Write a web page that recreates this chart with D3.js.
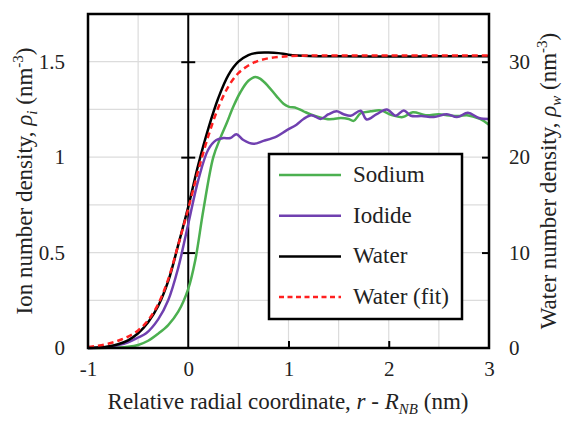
<!DOCTYPE html>
<html>
<head>
<meta charset="utf-8">
<script src="https://cdn.jsdelivr.net/npm/d3@7"></script>
</head>
<body style="margin:0; font-family:'Liberation Serif', serif;">
<div id="chart"></div>
<script>
// density profiles, [r - R_NB (nm), density (nm^-3)]
var sodium = [[-1,0],[-0.8,0.001],[-0.7,0.002],[-0.6,0.006],[-0.5,0.016],[-0.4,0.038],[-0.3,0.075],[-0.2,0.12],[-0.1,0.19],[0,0.31],
	[0.07,0.46],[0.15,0.72],[0.25,1.0],[0.32,1.1],[0.385,1.18],[0.45,1.265],[0.52,1.34],[0.6,1.4],[0.67,1.42],[0.72,1.41],
	[0.8,1.37],[0.88,1.32],[0.95,1.28],[1.0,1.265],[1.08,1.257],[1.15,1.24],[1.25,1.218],[1.38,1.2],[1.45,1.2],[1.52,1.205],
	[1.6,1.2],[1.65,1.19],[1.72,1.23],[1.82,1.24],[1.92,1.245],[2.03,1.22],[2.14,1.21],[2.24,1.235],[2.37,1.22],[2.5,1.225],
	[2.58,1.22],[2.7,1.215],[2.78,1.22],[2.91,1.2],[3.0,1.17]];
var iodide = [[-1,0],[-0.9,0.001],[-0.8,0.005],[-0.7,0.015],[-0.6,0.03],[-0.5,0.055],[-0.42,0.077],[-0.3,0.15],[-0.2,0.25],[-0.1,0.42],
	[0,0.65],[0.1,0.88],[0.2,1.04],[0.28,1.09],[0.35,1.1],[0.42,1.1],[0.48,1.12],[0.55,1.09],[0.65,1.07],[0.75,1.085],
	[0.88,1.108],[0.98,1.14],[1.08,1.17],[1.15,1.2],[1.23,1.22],[1.32,1.2],[1.4,1.225],[1.48,1.24],[1.55,1.225],[1.62,1.217],
	[1.72,1.243],[1.78,1.197],[1.88,1.225],[1.98,1.25],[2.07,1.217],[2.15,1.245],[2.22,1.217],[2.33,1.215],[2.45,1.21],[2.58,1.225],
	[2.68,1.21],[2.79,1.232],[2.9,1.205],[3.0,1.2]];
var water = [[-1,0],[-0.9,0.002],[-0.8,0.008],[-0.7,0.02],[-0.6,0.04],[-0.5,0.077],[-0.4,0.135],[-0.3,0.22],[-0.2,0.35],[-0.1,0.54],
	[0,0.74],[0.1,0.96],[0.2,1.15],[0.3,1.31],[0.4,1.43],[0.5,1.5],[0.6,1.535],[0.7,1.547],[0.8,1.548],[0.9,1.545],
	[1.0,1.537],[1.2,1.53],[1.5,1.528],[2,1.527],[2.5,1.528],[3,1.528]];
var waterFit = [[-1,0.005],[-0.9,0.012],[-0.8,0.022],[-0.7,0.038],[-0.6,0.06],[-0.5,0.092],[-0.4,0.145],[-0.3,0.23],[-0.2,0.36],[-0.1,0.54],
	[0,0.73],[0.1,0.93],[0.2,1.11],[0.3,1.26],[0.4,1.37],[0.5,1.44],[0.6,1.48],[0.7,1.505],[0.8,1.518],[0.9,1.525],
	[1.0,1.529],[1.2,1.532],[1.5,1.533],[2,1.533],[3,1.533]];

var seriesNames = ["Sodium", "Iodide", "Water", "Water (fit)"];
var seriesColors = ["#4cb050", "#7040b0", "#000000", "#ff2020"];
var xTicks = [-1, 0, 1, 2, 3];
var yTicks = [0, 0.5, 1, 1.5];
var yRTicks = [0, 10, 20, 30];

var W = 567, H = 423;
var L = 88, R = 489, T = 14, B = 348;
var FONT = "Liberation Serif";

function draw () {
	var svg = d3.select("#chart").append("svg").attr("width", W).attr("height", H)
		.attr("font-family", FONT);

	var x = d3.scaleLinear().domain([-1, 3]).range([L, R]);
	var y = d3.scaleLinear().domain([0, 1.75]).range([B, T]);
	var yR = d3.scaleLinear().domain([0, 35]).range([B, T]);

	// grid
	svg.append("g").selectAll("line").data([-0.5, 0.5, 1, 1.5, 2, 2.5]).enter().append("line")
		.attr("x1", function (d) { return x(d); }).attr("x2", function (d) { return x(d); })
		.attr("y1", T).attr("y2", B).attr("stroke", "#dcdcdc").attr("stroke-width", 1.2);
	svg.append("g").selectAll("line").data([0.25, 0.5, 0.75, 1, 1.25, 1.5]).enter().append("line")
		.attr("x1", L).attr("x2", R)
		.attr("y1", function (d) { return y(d); }).attr("y2", function (d) { return y(d); })
		.attr("stroke", "#dcdcdc").attr("stroke-width", 1.2);

	// axis at r = 0, ticks crossing it
	svg.append("line").attr("x1", x(0)).attr("x2", x(0)).attr("y1", T).attr("y2", B)
		.attr("stroke", "black").attr("stroke-width", 2);
	svg.append("g").attr("transform", "translate(" + (x(0) - 7) + ",0)")
		.call(d3.axisRight(y).tickValues([0.5, 1, 1.5]).tickSize(14).tickFormat(""))
		.call(function (g) { g.select(".domain").remove(); g.selectAll("line").attr("stroke-width", 2); });

	// inner ticks on right and bottom
	svg.append("g").attr("transform", "translate(" + R + ",0)")
		.call(d3.axisLeft(yR).tickValues([10, 20, 30]).tickSize(7).tickFormat(""))
		.call(function (g) { g.select(".domain").remove(); g.selectAll("line").attr("stroke-width", 2); });
	svg.append("g").attr("transform", "translate(0," + B + ")")
		.call(d3.axisTop(x).tickValues([1, 2]).tickSize(7).tickFormat(""))
		.call(function (g) { g.select(".domain").remove(); g.selectAll("line").attr("stroke-width", 2); });

	// tick labels
	function labels(g) {
		g.attr("font-family", FONT).attr("font-size", 21);
		g.select(".domain").remove();
		g.selectAll("line").remove();
		g.selectAll("text").attr("font-family", FONT).attr("font-size", 21).attr("fill", "#222");
	}
	svg.append("g").attr("transform", "translate(" + L + ",0)")
		.call(d3.axisLeft(y).tickValues(yTicks).tickSize(0).tickPadding(23).tickFormat(function (d) { return String(d); }))
		.call(labels);
	svg.append("g").attr("transform", "translate(" + R + ",0)")
		.call(d3.axisRight(yR).tickValues(yRTicks).tickSize(0).tickPadding(20).tickFormat(function (d) { return String(d); }))
		.call(labels);
	svg.append("g").attr("transform", "translate(0," + B + ")")
		.call(d3.axisBottom(x).tickValues(xTicks).tickSize(0).tickPadding(13).tickFormat(function (d) { return String(d); }))
		.call(labels);

	// curves
	var line = d3.line().x(function (d) { return x(d[0]); }).y(function (d) { return y(d[1]); }).curve(d3.curveCatmullRom);
	var allSeries = [sodium, iodide, water, waterFit];
	allSeries.forEach(function (s, i) {
		var p = svg.append("path").datum(s).attr("d", line).attr("fill", "none")
			.attr("stroke", seriesColors[i]).attr("stroke-width", 2.5);
		if (i == 3) p.attr("stroke-dasharray", "6,4");
	});

	// frame
	svg.append("rect").attr("x", L).attr("y", T).attr("width", R - L).attr("height", B - T)
		.attr("fill", "none").attr("stroke", "black").attr("stroke-width", 2.5);

	// legend
	var lg = svg.append("g");
	lg.append("rect").attr("x", 269).attr("y", 154).attr("width", 193).attr("height", 165)
		.attr("fill", "white").attr("stroke", "black").attr("stroke-width", 2.5);
	seriesNames.forEach(function (name, i) {
		var yy = 175 + i * 40.7;
		var l = lg.append("line").attr("x1", 279).attr("x2", 341).attr("y1", yy).attr("y2", yy)
			.attr("stroke", seriesColors[i]).attr("stroke-width", 2.5);
		if (i == 3) l.attr("stroke-dasharray", "5,3.5");
		lg.append("text").attr("x", 353).attr("y", yy + 7).attr("font-family", FONT).attr("font-size", 23)
			.attr("fill", "#222").text(name);
	});

	// axis titles
	var xt = svg.append("text").attr("x", 288).attr("y", 409).attr("text-anchor", "middle")
		.attr("font-family", FONT).attr("font-size", 23).attr("fill", "#222");
	xt.append("tspan").text("Relative radial coordinate, ");
	xt.append("tspan").attr("font-style", "italic").text("r");
	xt.append("tspan").text(" - ");
	xt.append("tspan").attr("font-style", "italic").text("R");
	xt.append("tspan").attr("font-style", "italic").attr("font-size", 15).attr("dy", 5).text("NB");
	xt.append("tspan").attr("dy", -5).text(" (nm)");

	var yt = svg.append("text").attr("transform", "translate(32,181) rotate(-90)").attr("text-anchor", "middle")
		.attr("font-family", FONT).attr("font-size", 23).attr("fill", "#222");
	yt.append("tspan").text("Ion number density, ");
	yt.append("tspan").attr("font-style", "italic").text("\u03C1");
	yt.append("tspan").attr("font-style", "italic").attr("font-size", 15).attr("dy", 5).text("i");
	yt.append("tspan").attr("dy", -5).text(" (nm");
	yt.append("tspan").attr("font-size", 15).attr("dy", -9).text("-3");
	yt.append("tspan").attr("dy", 9).text(")");

	var yt2 = svg.append("text").attr("transform", "translate(556,181) rotate(-90)").attr("text-anchor", "middle")
		.attr("font-family", FONT).attr("font-size", 23).attr("fill", "#222");
	yt2.append("tspan").text("Water number density, ");
	yt2.append("tspan").attr("font-style", "italic").text("\u03C1");
	yt2.append("tspan").attr("font-style", "italic").attr("font-size", 15).attr("dy", 5).text("w");
	yt2.append("tspan").attr("dy", -5).text(" (nm");
	yt2.append("tspan").attr("font-size", 15).attr("dy", -9).text("-3");
	yt2.append("tspan").attr("dy", 9).text(")");
}

if (document.fonts && document.fonts.load) {
	Promise.all([
		document.fonts.load("21px 'Liberation Serif'"),
		document.fonts.load("italic 21px 'Liberation Serif'")
	]).then(draw, draw);
} else {
	draw();
}
</script>
</body>
</html>
